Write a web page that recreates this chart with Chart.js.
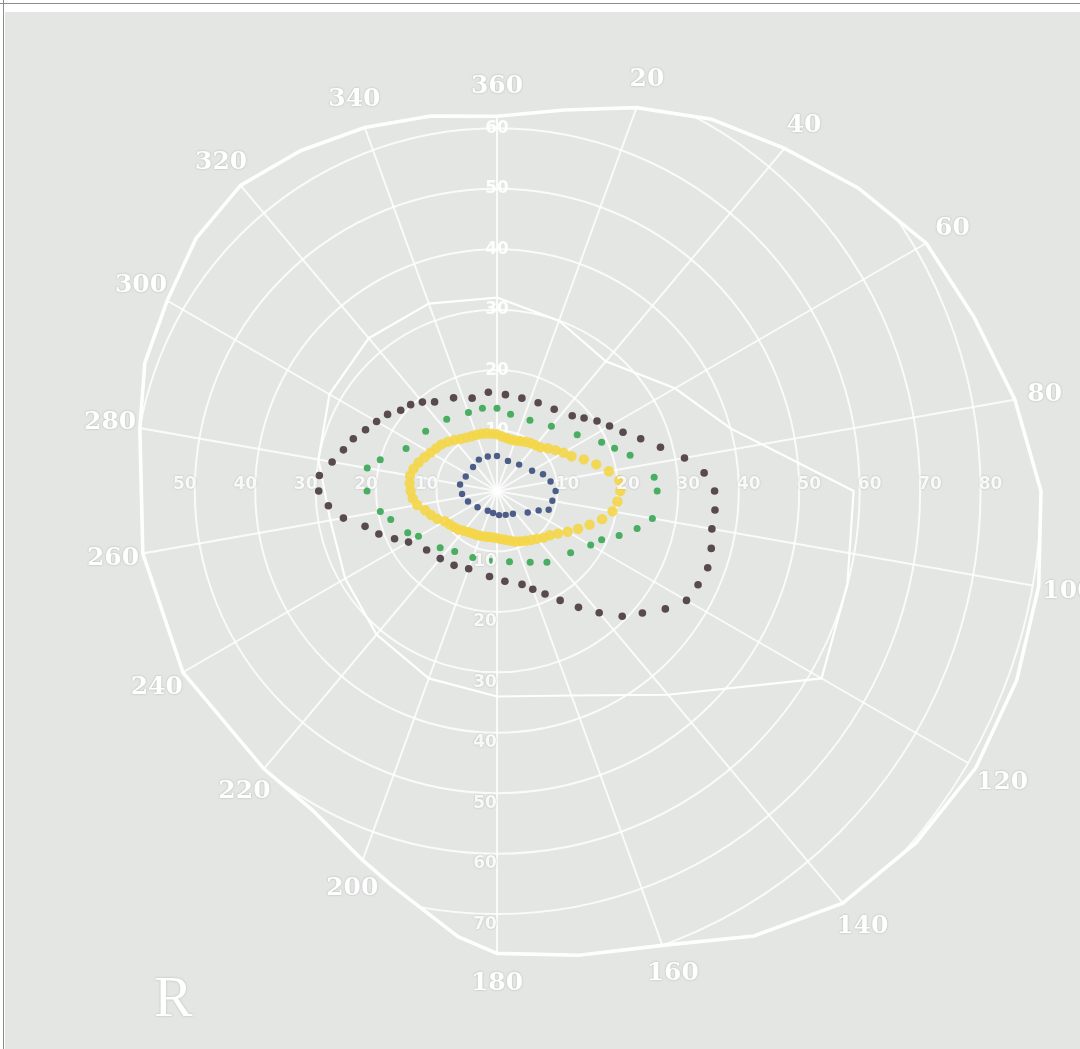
<!DOCTYPE html>
<html>
<head>
<meta charset="utf-8">
<title>Visual field – R</title>
<script src="https://cdn.jsdelivr.net/npm/chart.js@4.4.1/dist/chart.umd.min.js"></script>
<style>
  html, body { margin: 0; padding: 0; width: 1080px; height: 1049px; overflow: hidden; background: #ffffff; }
  #sheet { position: absolute; left: 5px; top: 12px; width: 1075px; height: 1037px; background: #e3e6e3; }
  #field { position: absolute; left: -92px; top: -63px; width: 1178px; height: 1109px; }
  #edgeTop { position: absolute; left: 0; top: 3px; width: 1080px; height: 1px; background: #8c8c8c; }
  #edgeLeft { position: absolute; left: 3px; top: 0; width: 1px; height: 1049px; background: #8c8c8c; }
  #eye { position: absolute; left: 154px; top: 968px; font: 58px "Liberation Serif", "DejaVu Serif", serif;
         line-height: 58px; color: #ffffff; text-shadow: 0 0 2px rgba(140,140,140,0.6); }
</style>
</head>
<body>
<div id="sheet"></div>
<canvas id="field" width="1178" height="1109"></canvas>
<div id="edgeTop"></div>
<div id="edgeLeft"></div>
<div id="eye">R</div>
<script>
// Meridians every 5 degrees, clockwise from the top of the field.
const meridians = [
  0, 5, 10, 15, 20, 25, 30, 35, 40,
  45, 50, 55, 60, 65, 70, 75, 80, 85,
  90, 95, 100, 105, 110, 115, 120, 125, 130,
  135, 140, 145, 150, 155, 160, 165, 170, 175,
  180, 185, 190, 195, 200, 205, 210, 215, 220,
  225, 230, 235, 240, 245, 250, 255, 260, 265,
  270, 275, 280, 285, 290, 295, 300, 305, 310,
  315, 320, 325, 330, 335, 340, 345, 350, 355
];

// Rim labels, one every 20 degrees.
const angleLabels = ['360', '20', '40', '60', '80', '100', '120', '140', '160',
                     '180', '200', '220', '240', '260', '280', '300', '320', '340'];
const angleLabelMeridians = [0, 20, 40, 60, 80, 100, 120, 140, 160,
                             180, 200, 220, 240, 260, 280, 300, 320, 340];

// Ring numbers written along three meridians.
const ringNumbersRight = [10, 20, 30, 40, 50, 60, 70, 80];
const ringNumbersDown = [10, 20, 30, 40, 50, 60, 70];
const ringNumbersLeft = [10, 20, 30, 40, 50];

// Measured isopters (eccentricity in degrees per meridian, null = no test point).
const isopterOuter = [
  null, 16.0, null, 15.9, null, 16.1, null, 16.5, null,
  17.6, 18.8, 20.2, 21.5, 23.0, 25.3, 28.0, 31.5, 34.4,
  36.0, 36.2, 36.1, 36.7, 37.1, 36.7, 36.2, 34.0, 31.4,
  29.3, 26.3, 23.5, 20.9, 18.8, 17.3, 16.0, null, 15.0,
  null, 14.2, null, null, 13.7, null, 14.2, null, 14.6,
  null, 15.2, null, 16.9, 18.7, 20.8, 22.6, 25.8, 28.0,
  29.5, 29.5, 27.7, 26.3, 25.3, 24.0, 23.0, 22.1, 20.8,
  20.2, 19.2, 18.0, null, 17.0, null, 15.9, null, 16.4
];
const isopterMid = [
  13.7, null, 12.9, null, null, 12.9, null, null, 14.0,
  null, null, 16.2, null, 19.1, 20.7, 22.8, null, 26.1,
  26.5, null, 26.1, 24.0, 21.5, 19.1, 17.9, null, 15.9,
  null, null, 14.4, null, 13.0, null, null, 11.9, null,
  null, 11.7, null, null, 11.7, null, null, 12.2, null,
  13.3, null, null, 15.0, 16.3, null, 18.2, 19.6, null,
  21.5, null, 21.8, 20.0, null, 16.6, null, null, 15.4,
  null, null, 14.5, null, null, 13.8, null, 13.9, null
];
const isopterInner = [
  9.4, 9.1, 8.9, 8.8, 8.9, 9.1, 9.4, 9.7, 9.9,
  10.2, 11.0, 11.8, 12.7, 13.6, 15.3, 17.0, 18.8, 20.3,
  20.4, 20.0, 19.4, 18.0, 16.3, 14.8, 13.5, 12.3, 11.4,
  10.9, 10.3, 9.9, 9.5, 9.2, 8.9, 8.5, 8.2, 8.0,
  7.8, 7.7, 7.7, 7.8, 7.9, 8.0, 8.1, 8.3, 8.6,
  9.0, 9.3, 9.6, 10.0, 10.9, 11.6, 12.3, 13.4, 14.0,
  14.3, 14.5, 14.6, 14.3, 13.8, 13.2, 12.7, 12.3, 12.0,
  11.5, 11.0, 10.5, 10.2, 10.0, 9.9, 9.8, 9.7, 9.5
];
const isopterCentral = [
  5.8, null, null, null, 5.3, null, null, null, 5.7,
  null, null, null, 6.7, null, 8.1, null, 9.0, null,
  9.7, null, 9.3, null, 9.1, 7.6, null, 6.2, null,
  null, null, 4.6, null, null, 4.2, null, null, 4.0,
  null, null, 3.7, null, null, 3.6, null, null, null,
  null, 4.2, null, null, null, 5.1, null, null, 5.8,
  null, null, 6.2, null, null, 5.7, null, null, null,
  5.6, null, null, 6.0, null, null, 5.9, null, null
];

// Printed normal-field outlines.
const normalField = [
  62, null, 64, null, 67.5, null, 71, null, 74,
  null, 78, null, 82, null, 84, null, 87, null,
  90, null, 91, null, 91.5, null, 91.5, null, 90.5,
  null, 89, null, 85, null, 80, null, 78, null,
  76.5, 74, null, 67.5, 65, null, 61, null, 60,
  null, null, null, 60, null, null, null, 59.5, null,
  null, null, 60, null, 62, null, 63, null, 65,
  null, 66, null, 65, null, 64, null, 63, null
];
const normalInner = [
  32, null, null, null, 30, null, null, null, 28,
  null, null, null, 34, null, null, 40, null, null,
  59, null, null, 60, null, null, 62, null, null,
  null, 44, null, null, null, 36, null, null, null,
  34, null, null, null, 33, null, null, null, 31,
  null, null, null, 29, null, null, null, 28, null,
  null, null, 30, null, null, null, 32, null, null,
  null, 33, null, null, null, 33, null, null, null
];

function dotted(values, colour, radius) {
  return {
    data: values,
    showLine: false,
    fill: false,
    borderWidth: 0,
    pointRadius: radius,
    pointHoverRadius: radius,
    pointBorderWidth: 0,
    pointBackgroundColor: colour,
    clip: false
  };
}

function outline(values, width) {
  return {
    data: values,
    spanGaps: true,
    fill: false,
    tension: 0,
    borderColor: 'rgba(255,255,255,0.95)',
    borderWidth: width,
    pointRadius: 0,
    pointHoverRadius: 0,
    clip: false
  };
}

const datasets = [
  dotted(isopterCentral, '#4c5d88', 3.2),
  dotted(isopterInner, 'rgba(244,214,72,0.9)', 5.2),
  dotted(isopterMid, '#49ad62', 3.5),
  dotted(isopterOuter, '#594a4f', 3.8),
  outline(normalInner, 2.2),
  outline(normalField, 3.6)
];
const fieldIndex = datasets.length - 1;

// Rings and meridian lines are only printed inside the normal field.
const fieldClip = {
  id: 'fieldClip',
  beforeDraw(chart) {
    const pts = chart.getDatasetMeta(fieldIndex).data.filter(p => !p.skip);
    const ctx = chart.ctx;
    ctx.save();
    ctx.beginPath();
    pts.forEach((p, i) => (i ? ctx.lineTo(p.x, p.y) : ctx.moveTo(p.x, p.y)));
    ctx.closePath();
    ctx.clip();
  },
  beforeDatasetsDraw(chart) {
    chart.ctx.restore();
  }
};

// Rim degree labels just outside the normal field, ring numbers on the meridians.
const fieldLabels = {
  id: 'fieldLabels',
  afterDraw(chart) {
    const scale = chart.scales.r;
    const ctx = chart.ctx;
    ctx.save();
    ctx.fillStyle = '#ffffff';
    ctx.textAlign = 'center';
    ctx.textBaseline = 'middle';
    ctx.shadowColor = 'rgba(130,130,130,0.55)';
    ctx.shadowBlur = 2;
    ctx.font = 'bold 25px "DejaVu Serif", serif';
    angleLabels.forEach((text, i) => {
      const slot = meridians.indexOf(angleLabelMeridians[i]);
      const p = scale.getPointPositionForValue(slot, normalField[slot] + 5);
      ctx.fillText(text, p.x, p.y);
    });
    ctx.font = 'bold 17px "DejaVu Sans", sans-serif';
    ctx.fillStyle = 'rgba(255,255,255,0.9)';
    const along = (angle, values, dx, dy) => {
      const slot = meridians.indexOf(angle);
      values.forEach(v => {
        const p = scale.getPointPositionForValue(slot, v);
        ctx.fillText(String(v), p.x + dx, p.y + dy);
      });
    };
    along(90, ringNumbersRight, 10, -6);
    along(180, ringNumbersDown, -12, 10);
    along(270, ringNumbersLeft, -10, -6);
    ctx.restore();
  }
};

new Chart(document.getElementById('field'), {
  type: 'radar',
  data: { labels: meridians, datasets: datasets },
  options: {
    responsive: false,
    animation: false,
    events: [],
    layout: { padding: 0 },
    plugins: { legend: { display: false }, tooltip: { enabled: false } },
    scales: {
      r: {
        min: 0,
        max: 90,
        startAngle: 0,
        grid: { circular: true, color: 'rgba(255,255,255,0.8)', lineWidth: 2 },
        angleLines: {
          display: true,
          color: 'rgba(255,255,255,0.8)',
          lineWidth: ctx => (meridians[ctx.index] % 20 === 0 ? 2 : 0)
        },
        pointLabels: { display: false },
        ticks: {
          display: true,
          stepSize: 10,
          showLabelBackdrop: false,
          color: 'rgba(255,255,255,0.9)',
          font: { family: '"DejaVu Sans", sans-serif', size: 17, weight: 'bold' }
        }
      }
    }
  },
  plugins: [fieldClip, fieldLabels]
});
</script>
</body>
</html>
